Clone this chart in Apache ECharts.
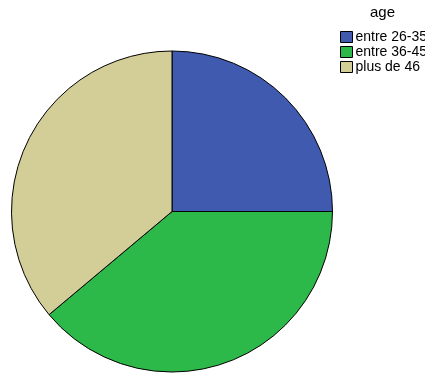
<!DOCTYPE html>
<html>
<head>
<meta charset="utf-8">
<script src="https://cdn.jsdelivr.net/npm/echarts@6/dist/echarts.min.js"></script>
<style>
html,body{margin:0;padding:0;background:#fff;}
#chart{width:425px;height:374px;}
</style>
</head>
<body>
<div id="chart"></div>
<script>
// Age groups and their counts
const categories = ['entre 26-35', 'entre 36-45', 'plus de 46'];
const counts = [9, 14, 13];
const colors = ['#3F5AAE', '#2DB94A', '#D3CE97'];

const chart = echarts.init(document.getElementById('chart'), null, {renderer: 'canvas'});

chart.setOption({
  animation: false,
  backgroundColor: '#ffffff',
  title: {
    text: 'age',
    left: 370,
    top: 5,
    padding: 0,
    textStyle: {fontFamily: 'Liberation Sans, Arial, sans-serif', fontSize: 15, fontWeight: 'normal', color: '#000'}
  },
  legend: {
    orient: 'vertical',
    left: 340,
    top: 30,
    padding: 0,
    itemWidth: 12,
    itemHeight: 11,
    itemGap: 1,
    icon: 'rect',
    textStyle: {fontFamily: 'Liberation Sans, Arial, sans-serif', fontSize: 14, lineHeight: 14, color: '#000', padding: [0, 0, 0, -2]},
    data: categories,
    itemStyle: {borderColor: '#000', borderWidth: 1}
  },
  series: [{
    type: 'pie',
    center: [172, 211.5],
    radius: 160.5,
    startAngle: 90,
    clockwise: true,
    label: {show: false},
    labelLine: {show: false},
    emphasis: {disabled: true},
    itemStyle: {borderColor: '#000', borderWidth: 1},
    data: categories.map((name, i) => ({name, value: counts[i], itemStyle: {color: colors[i]}}))
  }]
});
</script>
</body>
</html>
